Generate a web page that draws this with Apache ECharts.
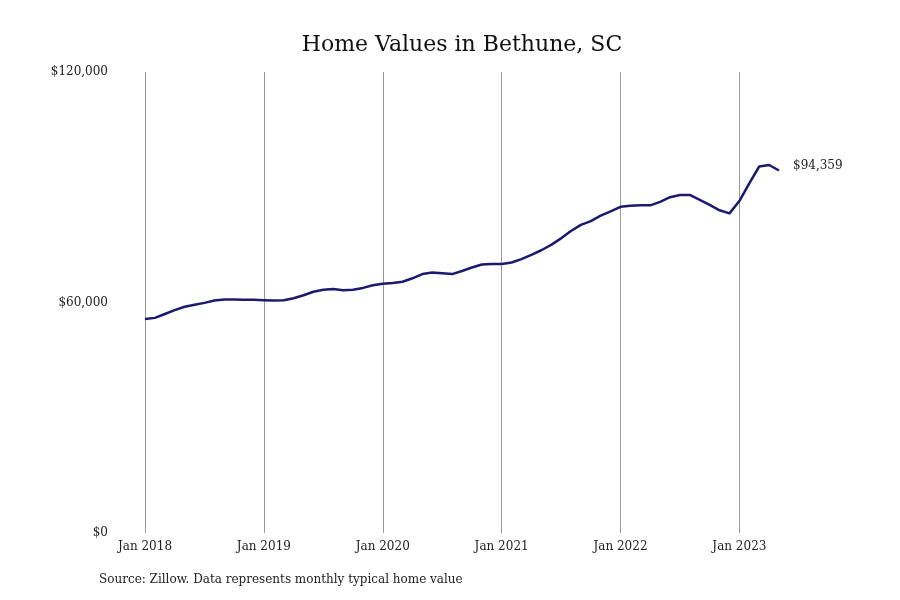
<!DOCTYPE html>
<html>
<head>
<meta charset="utf-8">
<script src="https://cdn.jsdelivr.net/npm/echarts@6/dist/echarts.min.js"></script>
<style>html,body{margin:0;padding:0;background:#fff}#c{width:900px;height:600px}</style>
</head>
<body>
<div id="c"></div>
<script>
var monthNames = ['Jan','Feb','Mar','Apr','May','Jun','Jul','Aug','Sep','Oct','Nov','Dec'];
var years = [2018, 2019, 2020, 2021, 2022, 2023];
var values2018 = [55700, 56000, 57000, 58000, 58900, 59400, 59900, 60500, 60800, 60800, 60700, 60700];
var values2019 = [60600, 60500, 60600, 61100, 61900, 62800, 63300, 63500, 63200, 63300, 63800, 64500];
var values2020 = [64900, 65100, 65400, 66300, 67400, 67800, 67600, 67400, 68200, 69100, 69900, 70000];
var values2021 = [70000, 70400, 71300, 72400, 73600, 75000, 76700, 78600, 80200, 81200, 82600, 83700];
var values2022 = [84900, 85200, 85300, 85300, 86200, 87400, 88000, 88000, 86700, 85400, 84000, 83200];
var values2023 = [86400, 91000, 95400, 95800, 94359];
var yTicks = [0, 60000, 120000];

var series = [].concat(values2018, values2019, values2020, values2021, values2022, values2023);
var categories = [];
for (var i = 0; i < series.length; i++) {
  categories.push(monthNames[i % 12] + ' ' + years[Math.floor(i / 12)]);
}
var serif = 'DejaVu Serif';
function money(v) { return '$' + Number(v).toLocaleString('en-US'); }
var chart = echarts.init(document.getElementById('c'));
chart.setOption({
  animation: false,
  backgroundColor: '#fff',
  title: {
    text: 'Home Values in Bethune, SC',
    left: 457, top: 29, textAlign: 'center',
    textStyle: { fontFamily: serif, fontWeight: 'normal', fontSize: 22, color: '#111' }
  },
  graphic: [{
    type: 'text', left: 99, top: 574,
    style: { text: 'Source: Zillow. Data represents monthly typical home value',
      font: '12px "DejaVu Serif"', fill: '#222' }
  }],
  grid: { left: 145, right: 121, top: 72, bottom: 67 },
  xAxis: {
    type: 'category', data: categories, boundaryGap: false,
    axisLine: { show: false }, axisTick: { show: false },
    axisLabel: {
      interval: function (i) { return i % 12 === 0; },
      fontFamily: serif, fontSize: 12, color: '#222', margin: 8
    },
    splitLine: { show: true, interval: function (i) { return i % 12 === 0; },
      lineStyle: { color: '#9a9a9a', width: 1 } }
  },
  yAxis: {
    type: 'value', min: yTicks[0], max: yTicks[2], interval: yTicks[1] - yTicks[0],
    axisLine: { show: false }, axisTick: { show: false }, splitLine: { show: false },
    axisLabel: { margin: 37, fontFamily: serif, fontSize: 12, color: '#222',
      formatter: money }
  },
  series: [{
    type: 'line', data: series, symbol: 'none',
    lineStyle: { color: '#1c1a6e', width: 2.5 },
    itemStyle: { color: '#1c1a6e' },
    endLabel: { show: true, distance: 14, color: '#222', fontSize: 12,
      fontFamily: serif, offset: [0, -5],
      formatter: function (p) { return money(p.value); } }
  }]
});
</script>
</body>
</html>
